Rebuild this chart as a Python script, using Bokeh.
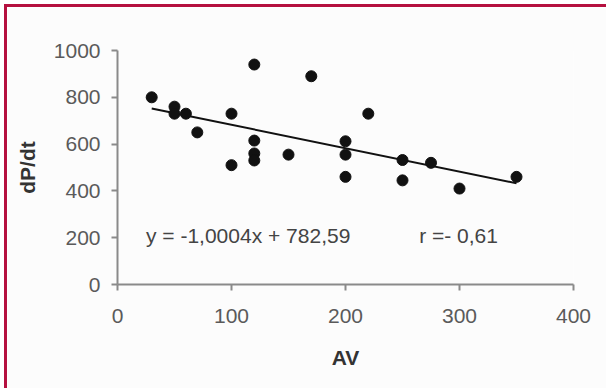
from bokeh.plotting import figure
from bokeh.models import Range1d, FixedTicker, Label
from bokeh.embed import file_html
from bokeh.resources import INLINE

# data
av = [30, 50, 50, 60, 70, 100, 100, 120, 120, 120, 120, 150, 170, 200, 200, 200, 220, 250, 250, 275, 300, 350]
dpdt = [800, 760, 730, 730, 650, 730, 510, 940, 615, 560, 530, 555, 890, 612, 555, 460, 730, 532, 445, 520, 410, 460]
x_ticks = [0, 100, 200, 300, 400]
y_ticks = [0, 200, 400, 600, 800, 1000]
slope = -1.0004
intercept = 782.59
trend_x = [30, 350]
eq_text = "y = -1,0004x + 782,59"
r_text = "r =- 0,61"

FONT = "Liberation Sans"
BG = "#fcfcfc"

p = figure(width=602, height=384, output_backend="svg", toolbar_location=None,
           x_range=Range1d(0, 400), y_range=Range1d(0, 1000),
           min_border_left=110, min_border_right=36, min_border_top=43, min_border_bottom=107)
p.background_fill_color = BG
p.border_fill_color = BG
p.outline_line_color = None
p.grid.visible = False
p.styles = {"border-top": "3px solid #b5103f", "border-left": "3px solid #b5103f",
            "margin-left": "4px", "margin-top": "4px"}

for ax, ticks in ((p.xaxis, x_ticks), (p.yaxis, y_ticks)):
    ax.ticker = FixedTicker(ticks=ticks)
    ax.minor_tick_line_color = None
    ax.major_tick_in = 0
    ax.major_tick_out = 6
    ax.axis_line_color = "#8a8a8a"
    ax.axis_line_width = 2
    ax.major_tick_line_color = "#8a8a8a"
    ax.major_tick_line_width = 2
    ax.major_label_text_font = FONT
    ax.major_label_text_font_size = "21px"
    ax.major_label_text_color = "#5a5a5a"
    ax.axis_label_text_font = FONT
    ax.axis_label_text_font_size = "21px"
    ax.axis_label_text_font_style = "bold"
    ax.axis_label_text_color = "#333333"

p.xaxis.axis_label = "AV"
p.yaxis.axis_label = "dP/dt"
p.xaxis.major_label_standoff = 18
p.xaxis.axis_label_standoff = 20
p.yaxis.major_label_standoff = 11
p.yaxis.axis_label_standoff = 12

trend_y = [slope * x + intercept for x in trend_x]
p.line(trend_x, trend_y, line_color="#111111", line_width=2)
p.scatter(av, dpdt, size=11, fill_color="#111111", line_color="#111111")

p.add_layout(Label(x=25, y=210, text=eq_text, text_font=FONT, text_font_size="21px",
                   text_color="#444444", text_baseline="alphabetic"))
p.add_layout(Label(x=264.6, y=210, text=r_text, text_font=FONT, text_font_size="21px",
                   text_color="#444444", text_baseline="alphabetic"))

open("out.html", "w").write(file_html(p, INLINE))
